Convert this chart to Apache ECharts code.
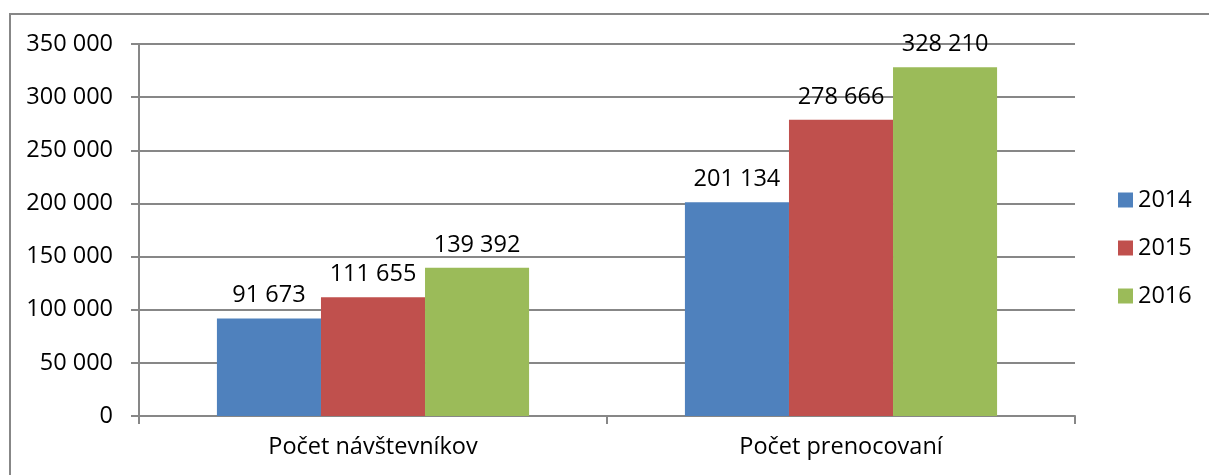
<!DOCTYPE html>
<html>
<head>
<meta charset="utf-8">
<script src="https://cdn.jsdelivr.net/npm/echarts@6/dist/echarts.min.js"></script>
<style>html,body{margin:0;padding:0;background:#fff}#c{width:1209px;height:475px}</style>
</head>
<body>
<div id="c"></div>
<script>
const categories = ['Počet návštevníkov', 'Počet prenocovaní'];
const seriesNames = ['2014', '2015', '2016'];
const values2014 = [91673, 201134];
const values2015 = [111655, 278666];
const values2016 = [139392, 328210];
const yTicks = [0, 50000, 100000, 150000, 200000, 250000, 300000, 350000];
const colors = ['#4F81BD', '#C0504D', '#9BBB59'];

const fmt = v => String(v).replace(/\B(?=(\d{3})+(?!\d))/g, ' ');
const FONT = 'Open Sans';
const FS = 23.5;
const allValues = [values2014, values2015, values2016];

const chart = echarts.init(document.getElementById('c'), null, {renderer: 'canvas'});
chart.setOption({
  animation: false,
  textStyle: {fontFamily: FONT},
  graphic: [{
    type: 'rect', shape: {x: 10, y: 14, width: 1400, height: 700},
    style: {fill: 'none', stroke: '#878787', lineWidth: 2}, silent: true
  }],
  grid: {left: 139, right: 134, top: 44, bottom: 59},
  legend: {
    orient: 'vertical', left: 1118, top: 188, padding: 0,
    itemWidth: 15, itemHeight: 15, itemGap: 24,
    icon: 'rect',
    textStyle: {fontFamily: FONT, fontSize: FS, color: '#000'},
    data: seriesNames
  },
  xAxis: {
    type: 'category', data: categories,
    axisLine: {lineStyle: {color: '#878787', width: 2}},
    axisTick: {show: true, length: 8, lineStyle: {color: '#878787', width: 2}},
    axisLabel: {fontFamily: FONT, fontSize: FS, color: '#000', margin: 19}
  },
  yAxis: {
    type: 'value', min: yTicks[0], max: yTicks[yTicks.length - 1], interval: 50000,
    axisLine: {show: true, lineStyle: {color: '#878787', width: 2}},
    axisTick: {show: true, length: 8, lineStyle: {color: '#878787', width: 2}},
    splitLine: {lineStyle: {color: '#878787', width: 2}},
    axisLabel: {fontFamily: FONT, fontSize: FS, color: '#000', margin: 26, formatter: fmt}
  },
  series: seriesNames.map((n, i) => ({
    name: n, type: 'bar', data: allValues[i],
    barGap: '0%', barCategoryGap: '33.3%',
    itemStyle: {color: colors[i]},
    label: {show: true, position: 'top', distance: 11, fontFamily: FONT, fontSize: FS, color: '#000', formatter: p => fmt(p.value)}
  }))
});
</script>
</body>
</html>
